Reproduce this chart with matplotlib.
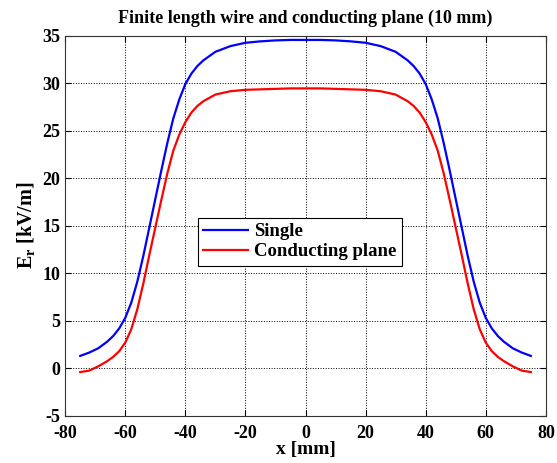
import matplotlib
matplotlib.use("Agg")
import matplotlib.pyplot as plt

# x positions [mm] and field values [kV/m]
x_mm = [-75, -72, -69, -66, -64, -62, -60, -58, -56, -54, -52, -50, -48, -46, -44, -42,
        -40, -38, -36, -34, -30, -25, -20, -15, -10, -5, 0,
        5, 10, 15, 20, 25, 30, 34, 36, 38, 40, 42, 44, 46, 48, 50, 52, 54, 56, 58, 60,
        62, 64, 66, 69, 72, 75]

single = [1.3, 1.65, 2.1, 2.8, 3.4, 4.2, 5.3, 6.9, 9.1, 11.8, 14.8, 17.8, 20.8, 23.7, 26.3, 28.3,
          29.9, 31.0, 31.8, 32.4, 33.3, 33.9, 34.25, 34.4, 34.5, 34.55, 34.55,
          34.55, 34.5, 34.4, 34.25, 33.9, 33.3, 32.4, 31.8, 31.0, 29.9, 28.3, 26.3, 23.7, 20.8, 17.8,
          14.8, 11.8, 9.1, 6.9, 5.3, 4.2, 3.4, 2.8, 2.1, 1.65, 1.3]

plane = [-0.4, -0.25, 0.2, 0.75, 1.2, 1.8, 2.7, 4.1, 6.2, 8.9, 11.9, 14.8, 17.7, 20.5, 22.9, 24.6,
         25.9, 26.9, 27.6, 28.1, 28.8, 29.15, 29.3, 29.35, 29.4, 29.45, 29.45,
         29.45, 29.4, 29.35, 29.3, 29.15, 28.8, 28.1, 27.6, 26.9, 25.9, 24.6, 22.9, 20.5, 17.7, 14.8,
         11.9, 8.9, 6.2, 4.1, 2.7, 1.8, 1.2, 0.75, 0.2, -0.25, -0.4]

plt.rcParams['font.family'] = 'Liberation Serif'
plt.rcParams['font.weight'] = 'bold'
plt.rcParams['axes.unicode_minus'] = False
plt.rcParams['mathtext.fontset'] = 'custom'
plt.rcParams['mathtext.rm'] = 'Liberation Serif:bold'

fig = plt.figure(figsize=(5.57, 4.63), dpi=100)
ax = fig.add_axes([0.117, 0.102, 0.863, 0.821])

ax.plot(x_mm, single, color='b', lw=1.6, label='Single')
ax.plot(x_mm, plane, color='r', lw=1.6, label='Conducting plane')

ax.set_xlim(-80, 80)
ax.set_ylim(-5, 35)
ax.set_xticks(range(-80, 81, 20))
ax.set_yticks(range(-5, 36, 5))
ax.grid(True, color='k', linestyle=':', lw=0.7)
ax.tick_params(direction='in', top=True, right=True, length=4, labelsize=13)
ax.tick_params(axis='x', pad=7)
for s in ax.spines.values():
    s.set_linewidth(0.8)
    s.set_color('#333333')

ax.set_title('Finite length wire and conducting plane (10 mm)', fontsize=13, fontweight='bold', pad=9)
ax.set_xlabel('x [mm]', fontsize=14, fontweight='bold', labelpad=-1)
ax.set_ylabel(r'E$_\mathrm{r}$ [kV/m]', fontsize=14.5, fontweight='bold', labelpad=3)

leg = ax.legend(loc='upper left', bbox_to_anchor=(0.276, 0.521), fontsize=13.5,
                fancybox=False, framealpha=1, edgecolor='k', handlelength=2.4,
                borderpad=0.3, labelspacing=0.15, handletextpad=0.3, borderaxespad=0)
leg.get_frame().set_linewidth(0.8)

fig.savefig('out.png', dpi=100)
